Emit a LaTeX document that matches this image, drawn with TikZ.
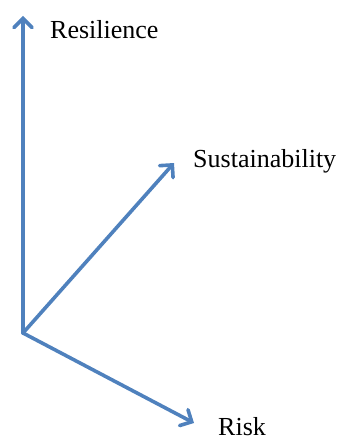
\documentclass[tikz,border=0pt]{standalone}
\usepackage{fontspec}
\setmainfont{Liberation Serif}
\usetikzlibrary{arrows.meta}
\definecolor{axisblue}{RGB}{79,129,189}
\begin{document}
\begin{tikzpicture}[x=1pt,y=-1pt,
  axis/.style={draw=axisblue, line width=3.6pt, line cap=round, line join=round,
    -{Straight Barb[length=9pt, width=18pt, line cap=round]}},
  lbl/.style={anchor=base west, inner sep=0pt, font=\fontsize{26}{30}\selectfont}]
\useasboundingbox (0,0) rectangle (344,436);
\coordinate (o) at (23,333);
\coordinate (r) at (23,16);
\coordinate (s) at (174,163);
\coordinate (k) at (194,423);
\draw[axis] (o) -- (r);
\draw[axis] (o) -- (s);
\draw[axis] (o) -- (k);
\node[lbl] (lr) at (50,38) {Resilience};
\node[lbl] (ls) at (193,167) {Sustainability};
\node[lbl] (lk) at (218,435) {Risk};
\end{tikzpicture}
\end{document}
